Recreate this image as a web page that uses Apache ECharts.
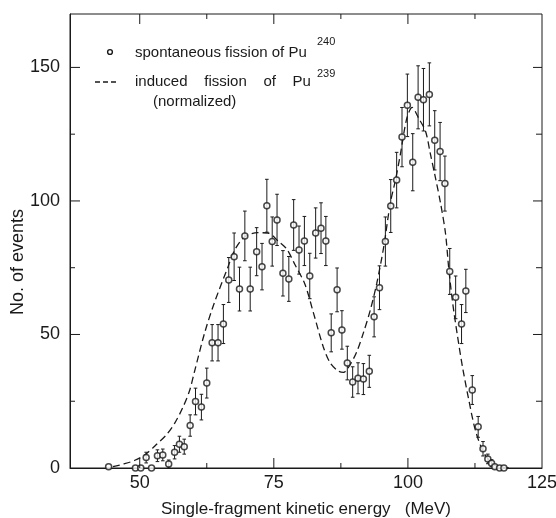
<!DOCTYPE html>
<html><head><meta charset="utf-8">
<script src="https://cdn.jsdelivr.net/npm/echarts@6/dist/echarts.min.js"></script>
<style>html,body{margin:0;padding:0;background:#fff}#c{width:556px;height:518px}</style>
</head><body><div id="c"></div><script>
// Spontaneous fission of Pu240: energy (MeV), counts, error bar half-length
const energy = [44.2,49.2,50.2,51.2,52.2,53.3,54.3,55.4,56.5,57.4,58.3,59.4,60.4,61.5,62.5,63.5,64.6,65.6,66.6,67.6,68.6,69.6,70.6,71.8,72.8,73.7,74.7,75.6,76.7,77.8,78.7,79.7,80.7,81.7,82.8,83.8,84.7,85.7,86.8,87.7,88.7,89.7,90.7,91.7,92.8,93.7,94.7,95.8,96.8,97.9,98.9,99.9,100.9,101.9,102.9,104.0,105.0,106.0,106.9,107.8,108.9,110.0,110.8,112.0,113.1,114.0,114.9,115.6,116.2,117.1,117.9];
const events = [0.5,0,0,3.9,0,4.6,4.9,1.5,5.9,8.9,8.0,15.9,24.9,22.8,31.8,46.9,46.9,53.9,70.4,79.1,67.0,86.9,67.0,81.0,75.4,98.2,84.8,92.9,72.9,70.8,91.0,81.6,85.0,71.9,88.0,89.8,85.0,50.6,66.7,51.7,39.3,32.2,33.6,33.3,36.2,56.6,67.5,84.8,98.1,107.8,123.9,135.8,114.5,138.8,137.9,139.9,122.7,118.5,106.5,73.6,63.9,53.9,66.3,29.2,15.4,7.2,3.4,1.8,0.5,0,0];
const errors = [0,0,0,2,0,2.2,2.2,1.5,2.5,3,2.8,4,5,4.8,5.6,6.8,6.8,7.3,8.4,8.9,8.2,9.3,8.2,9,8.7,9.9,9.2,9.6,8.5,8.4,9.5,9,9.2,8.5,9.4,9.5,9.2,7.1,8.2,7.2,6.3,5.7,5.8,5.8,6,7.5,8.2,9.2,9.9,10.4,11.1,11.7,10.7,11.8,11.7,11.8,11.1,10.9,10.3,8.6,8,7.3,8.1,5.4,3.9,2.7,1.8,1.3,0,0,0];
// Induced fission of Pu239 (normalized), dashed curve
const curveEnergy = [45,47,49,51,53,55,56.5,58,59.3,60.2,62.1,63.9,66.4,67.7,69.6,72,73.9,75.8,77.4,78.9,80.8,82.4,84.2,85.5,87,88,89.2,90.5,91.7,93,94.2,95.5,96.7,97.7,98.6,99.8,100.8,102,103.3,104.2,105.1,106.1,107,107.6,108.3,109.2,110.2,111.4,112.6,114.2,116.1,117.5,119.2];
const curveEvents = [0.5,1.5,2.8,5,8.6,12.5,16.7,22.5,29,36,50.6,61.8,75,81.6,86.6,88.1,88,85,82,76.3,68.8,58,45.5,39.4,36.3,35.8,38.6,43.7,50.6,59.2,69.2,82.9,99,108,117.5,131,135,131,126,117.5,109,99,88,75,62.5,50,37.6,25,14,5.5,1.1,0.3,0];
const xLabelTicks = [50,75,100,125];
const xMajorTicks = [50,75,100];
const xMinorTicks = [62.5,87.5,112.5];
const yLabelTicks = [0,50,100,150];
const yMajorTicks = [50,100,150];
const yMinorTicks = [25,75,125];

const X_MIN = 37, X_MAX = 125, Y_MIN = 0, Y_MAX = 170;
const INK = '#1a1a1a';
const FONT = 'Liberation Sans';
const chart = echarts.init(document.getElementById('c'), null, {renderer:'canvas'});

const pts = energy.map((x,i)=>[x, events[i], errors[i]]);
const curve = curveEnergy.map((x,i)=>[x, curveEvents[i]]);

function xTickSeries(vals, len){
  return {type:'custom', z:5, silent:true, encode:{x:0, y:1},
    data: vals.map(v=>[v, 1]),
    renderItem:function(params, api){
      const p = api.coord([api.value(0), Y_MIN]);
      const q = api.coord([api.value(0), Y_MAX]);
      const st = {stroke:INK, lineWidth:1};
      return {type:'group', children:[
        {type:'line', shape:{x1:p[0], y1:p[1], x2:p[0], y2:p[1]-len}, style:st},
        {type:'line', shape:{x1:q[0], y1:q[1], x2:q[0], y2:q[1]+len}, style:st}
      ]};
    }};
}
function yTickSeries(vals, lenL, lenR){
  return {type:'custom', z:5, silent:true, encode:{x:0, y:1},
    data: vals.map(v=>[X_MIN+1, v]),
    renderItem:function(params, api){
      const p = api.coord([X_MIN, api.value(1)]);
      const q = api.coord([X_MAX, api.value(1)]);
      const st = {stroke:INK, lineWidth:1};
      return {type:'group', children:[
        {type:'line', shape:{x1:p[0], y1:p[1], x2:p[0]+lenL, y2:p[1]}, style:st},
        {type:'line', shape:{x1:q[0], y1:q[1], x2:q[0]-lenR, y2:q[1]}, style:st}
      ]};
    }};
}

chart.setOption({
  animation:false,
  backgroundColor:'#fff',
  grid:{left:70, right:14, top:14, bottom:50, outerBoundsMode:'none', containLabel:false,
        show:true, borderColor:INK, borderWidth:1, backgroundColor:'transparent'},
  xAxis:{type:'value', min:X_MIN, max:X_MAX,
    axisLine:{show:true, onZero:false, lineStyle:{color:INK, width:1}},
    axisTick:{show:false},
    axisLabel:{show:true, customValues:xLabelTicks, margin:6, color:INK, fontFamily:FONT, fontSize:18},
    splitLine:{show:false},
    name:'Single-fragment kinetic energy   (MeV)', nameLocation:'middle', nameGap:33,
    nameTextStyle:{color:INK, fontFamily:FONT, fontSize:17}},
  yAxis:{type:'value', min:Y_MIN, max:Y_MAX,
    axisLine:{show:true, onZero:false, lineStyle:{color:INK, width:1}},
    axisTick:{show:false},
    axisLabel:{show:true, customValues:yLabelTicks, margin:10, color:INK, fontFamily:FONT, fontSize:18},
    splitLine:{show:false}},
  series:[
    xTickSeries(xMajorTicks, 10), xTickSeries(xMinorTicks, 5),
    yTickSeries(yMajorTicks, 10, 9), yTickSeries(yMinorTicks, 5, 6),
    {type:'line', data:curve, smooth:0.3, symbol:'none', silent:true, z:2,
     lineStyle:{color:INK, width:1.3, type:[7,4]}},
    {type:'custom', data:pts, z:3, encode:{x:0, y:1},
     renderItem:function(params, api){
       const x = api.value(0), y = api.value(1), e = api.value(2);
       if (!e) return null;
       const t = api.coord([x, y+e]);
       const b = api.coord([x, Math.max(0, y-e)]);
       const cw = 1.8;
       const st = {stroke:INK, lineWidth:1};
       return {type:'group', children:[
         {type:'line', shape:{x1:t[0], y1:t[1], x2:b[0], y2:b[1]}, style:st},
         {type:'line', shape:{x1:t[0]-cw, y1:t[1], x2:t[0]+cw, y2:t[1]}, style:st},
         {type:'line', shape:{x1:b[0]-cw, y1:b[1], x2:b[0]+cw, y2:b[1]}, style:st}
       ]};
     }},
    {type:'scatter', data:pts, z:4, symbol:'circle', symbolSize:6,
     itemStyle:{color:'#fff', borderColor:INK, borderWidth:1.5}}
  ],
  graphic:[
    {type:'text', x:18, y:262, rotation:Math.PI/2,
     style:{text:'No. of events', fill:INK, font:'18px "Liberation Sans"', align:'center', verticalAlign:'middle'}},
    {type:'circle', shape:{cx:110, cy:52, r:2.4}, style:{fill:'#fff', stroke:INK, lineWidth:1.4}},
    {type:'text', x:135, y:53, style:{text:'spontaneous fission of Pu', fill:INK, font:'15px "Liberation Sans"', verticalAlign:'middle'}},
    {type:'text', x:317, y:42, style:{text:'240', fill:INK, font:'11px "Liberation Sans"', verticalAlign:'middle'}},
    {type:'line', shape:{x1:95, y1:82, x2:118, y2:82}, style:{stroke:INK, lineWidth:1.3, lineDash:[5,3]}},
    {type:'text', x:135, y:82, style:{text:'induced    fission    of    Pu', fill:INK, font:'15px "Liberation Sans"', verticalAlign:'middle'}},
    {type:'text', x:317, y:74, style:{text:'239', fill:INK, font:'11px "Liberation Sans"', verticalAlign:'middle'}},
    {type:'text', x:153, y:102, style:{text:'(normalized)', fill:INK, font:'15px "Liberation Sans"', verticalAlign:'middle'}}
  ]
});
</script></body></html>
